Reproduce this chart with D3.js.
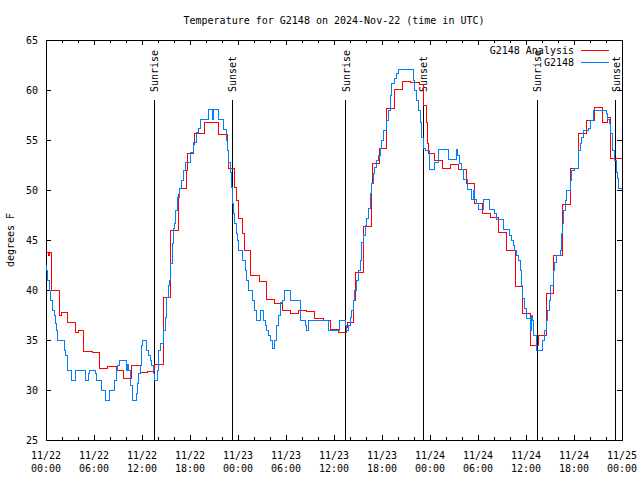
<!DOCTYPE html>
<html>
<head>
<meta charset="utf-8">
<script src="https://cdn.jsdelivr.net/npm/d3@7"></script>
<style>
  body { margin: 0; background: #fff; }
  text { font-family: "DejaVu Sans Mono", monospace; font-size: 10px; fill: #000; }
</style>
</head>
<body>
<svg id="chart" width="640" height="480"></svg>
<script>
// hours after 2024-11-22 00:00 UTC
const sunriseHours = [13.54, 37.46, 61.41];
const sunsetHours = [23.29, 47.16, 71.21];
const yTicks = [25, 30, 35, 40, 45, 50, 55, 60, 65];

// G2148 Analysis: [hour, degF], step changes
const analysis = [
  [0, 43.8], [0.3, 43.5], [0.45, 43.8], [0.7, 40.0], [1.67, 37.5], [1.88, 37.8], [2.67, 36.8],
  [3.7, 35.8], [4.0, 36.0], [4.67, 33.9], [5.8, 33.8], [6.67, 32.2], [7.7, 32.4], [8.75, 32.0],
  [9.67, 31.2], [10.7, 32.5], [11.75, 31.8], [12.7, 31.9], [13.6, 32.6], [14.7, 39.3], [15.6, 46.0],
  [16.6, 49.6], [16.7, 50.2], [17.6, 52.0], [17.7, 53.7], [18.4, 54.6], [18.6, 55.7], [19.75, 56.8],
  [21.6, 55.6], [22.7, 54.0], [22.8, 52.2], [23.5, 50.3], [23.75, 49.0], [24.0, 47.2], [24.5, 45.7],
  [24.75, 44.0], [25.6, 41.5], [26.67, 40.9], [27.58, 39.1], [28.6, 38.7], [29.6, 38.0], [30.6, 37.7],
  [31.5, 38.0], [32.6, 37.9], [33.6, 37.2], [34.7, 37.0], [35.5, 36.1], [36.5, 35.8], [37.5, 36.3],
  [37.7, 36.8], [38.4, 39.0], [38.7, 41.8], [39.7, 46.4], [40.7, 50.7], [40.8, 52.7], [41.7, 54.2],
  [42.6, 58.2], [43.6, 60.1], [44.6, 60.9], [45.6, 60.8], [46.7, 60.6], [47.2, 58.5], [47.5, 56.8],
  [47.65, 54.7], [47.8, 53.7], [48.6, 53.0], [49.6, 52.2], [50.6, 52.6], [51.6, 52.1], [52.6, 50.7],
  [53.6, 48.7], [54.6, 47.7], [55.6, 47.3], [56.6, 45.8], [57.6, 44.0], [58.7, 40.4], [59.6, 37.7],
  [60.6, 34.5], [61.55, 35.5], [62.6, 39.7], [63.4, 43.5], [64.6, 48.6], [65.6, 52.2], [66.6, 55.7],
  [67.6, 57.0], [68.5, 58.3], [69.5, 56.8], [70.2, 57.3], [70.5, 55.7], [70.6, 53.2], [72, 53.2]
];

// G2148 station obs: [hour, degF]
const station = [
  [0, 42.5], [0.1, 42.0], [0.21, 41.0], [0.42, 40.0], [0.58, 39.0], [0.83, 38.0], [1.0, 37.5],
  [1.17, 36.7], [1.33, 36.0], [1.42, 35.0], [2.29, 34.0], [2.46, 33.5], [2.67, 32.0], [3.13, 31.0],
  [3.71, 32.0], [4.92, 31.0], [5.29, 31.7], [5.42, 32.0], [6.21, 31.7], [6.33, 31.0], [6.96, 30.0],
  [7.38, 29.0], [7.92, 30.0], [8.5, 31.0], [8.75, 32.0], [8.92, 32.5], [9.17, 33.0], [10.0, 32.0],
  [10.15, 32.6], [10.3, 32.0], [10.5, 31.0], [10.6, 30.5], [10.75, 29.0], [11.33, 29.7], [11.45, 30.7],
  [11.6, 31.7], [11.75, 32.5], [11.9, 34.5], [12.04, 35.0], [12.5, 34.0], [12.8, 33.5], [13.0, 33.0],
  [13.2, 32.5], [13.4, 31.7], [13.55, 31.0], [13.9, 32.0], [14.1, 34.0], [14.3, 34.7], [14.67, 36.0],
  [14.9, 37.3], [15.1, 39.3], [15.3, 40.5], [15.45, 41.0], [15.58, 42.7], [15.75, 44.7], [15.9, 46.2],
  [16.08, 46.7], [16.2, 48.0], [16.46, 49.3], [16.67, 50.2], [16.96, 51.0], [17.17, 52.0], [17.4, 52.8],
  [18.0, 53.8], [18.4, 54.8], [18.83, 55.8], [19.04, 56.2], [19.33, 57.1], [20.3, 58.1], [20.83, 57.1],
  [20.96, 58.1], [21.6, 57.1], [22.2, 56.1], [22.5, 55.0], [22.7, 54.0], [22.8, 52.8], [23.0, 51.8],
  [23.2, 50.3], [23.33, 48.7], [23.4, 47.7], [23.54, 46.7], [23.75, 45.7], [23.9, 45.0], [24.08, 44.0],
  [24.54, 43.0], [24.9, 42.0], [25.1, 41.0], [25.3, 40.0], [25.83, 39.0], [26.04, 38.0], [26.33, 37.0],
  [26.75, 38.0], [27.17, 37.0], [27.4, 36.5], [27.6, 36.0], [27.8, 35.5], [28.0, 35.0], [28.3, 34.2],
  [28.6, 35.0], [28.83, 36.5], [29.04, 37.5], [29.25, 38.8], [29.6, 39.0], [29.8, 40.0], [30.6, 39.0],
  [31.75, 37.0], [32.4, 36.5], [32.6, 36.0], [32.8, 37.0], [35.3, 36.0], [36.67, 37.0], [37.46, 36.5],
  [37.6, 36.0], [37.8, 36.5], [38.0, 37.3], [38.2, 38.0], [38.4, 39.0], [38.6, 40.0], [38.83, 41.0],
  [39.04, 42.0], [39.25, 43.0], [39.46, 44.8], [39.7, 45.5], [39.9, 46.5], [40.1, 47.2], [40.3, 48.2],
  [40.5, 49.7], [40.7, 50.7], [40.9, 51.7], [41.1, 52.3], [41.3, 53.0], [41.5, 53.5], [41.75, 54.2],
  [41.96, 55.0], [42.2, 56.0], [42.6, 57.0], [42.8, 58.0], [43.0, 59.5], [43.2, 60.7], [43.5, 61.2],
  [43.8, 61.7], [44.0, 62.1], [45.9, 61.0], [46.1, 60.0], [46.3, 59.0], [46.5, 58.0], [46.75, 56.8],
  [46.96, 55.3], [47.2, 54.2], [47.4, 54.0], [47.9, 52.1], [48.6, 52.8], [49.0, 54.1], [50.3, 53.1],
  [51.3, 54.1], [51.45, 53.5], [51.7, 52.7], [51.96, 52.1], [52.2, 51.1], [52.7, 50.1], [53.2, 49.1],
  [53.4, 50.0], [53.5, 49.1], [53.8, 48.7], [54.0, 48.1], [54.7, 49.1], [55.4, 48.1], [56.0, 47.7],
  [56.3, 47.1], [57.2, 46.1], [57.9, 45.5], [58.2, 45.0], [58.4, 44.5], [58.6, 44.0], [58.8, 43.5],
  [59.0, 43.0], [59.3, 42.0], [59.45, 40.5], [59.6, 39.2], [59.75, 38.2], [60.1, 37.2], [60.5, 36.0],
  [60.7, 37.5], [60.8, 37.0], [60.95, 35.5], [61.25, 34.0], [62.1, 35.0], [62.3, 36.0], [62.5, 37.0],
  [62.7, 38.0], [62.9, 39.0], [63.1, 40.5], [63.4, 42.0], [63.6, 42.8], [63.8, 43.5], [64.25, 44.0],
  [64.45, 45.7], [64.6, 46.7], [64.7, 48.0], [64.9, 49.0], [65.1, 50.0], [65.5, 51.0], [65.7, 52.0],
  [66.1, 52.2], [66.5, 54.0], [66.75, 54.7], [66.96, 55.3], [67.2, 56.0], [67.8, 56.2], [68.0, 57.0],
  [68.4, 58.0], [70.0, 57.7], [70.2, 57.1], [70.4, 56.7], [70.6, 55.7], [70.8, 54.0], [71.1, 53.0],
  [71.25, 51.8], [71.4, 51.2], [71.5, 50.2], [72, 50.2]
];

const start = new Date(Date.UTC(2024, 10, 22));
const end = new Date(Date.UTC(2024, 10, 25));
const t = h => new Date(start.getTime() + h * 3600e3);

const svg = d3.select("#chart");
const plotLeft = 46, plotRight = 622, plotTop = 40, plotBottom = 440;

const x = d3.scaleUtc().domain([start, end]).range([plotLeft, plotRight]);
const y = d3.scaleLinear().domain([25, 65]).range([plotBottom, plotTop]);

svg.append("rect").attr("width", 640).attr("height", 480).attr("fill", "#fff");

function styleAxis(g) {
  g.select(".domain").remove();
  g.attr("font-family", null).attr("font-size", null);
  g.selectAll("line").attr("shape-rendering", "crispEdges");
}

// minor x ticks (2 h) bottom + top
svg.append("g").attr("transform", `translate(0,${plotBottom})`)
  .call(d3.axisBottom(x).ticks(d3.utcHour.every(2)).tickSize(-3).tickFormat(""))
  .call(styleAxis);
svg.append("g").attr("transform", `translate(0,${plotTop})`)
  .call(d3.axisTop(x).ticks(d3.utcHour.every(2)).tickSize(-3).tickFormat(""))
  .call(styleAxis);

// major x ticks (6 h)
svg.append("g").attr("transform", `translate(0,${plotBottom})`)
  .call(d3.axisBottom(x).ticks(d3.utcHour.every(6)).tickSize(-5).tickFormat(""))
  .call(styleAxis);
svg.append("g").attr("transform", `translate(0,${plotTop})`)
  .call(d3.axisTop(x).ticks(d3.utcHour.every(6)).tickSize(-5).tickFormat(""))
  .call(styleAxis);

const fmtDay = d3.utcFormat("%m/%d"), fmtTime = d3.utcFormat("%H:%M");
x.ticks(d3.utcHour.every(6)).forEach(d => {
  const lab = svg.append("text").attr("text-anchor", "middle");
  lab.append("tspan").attr("x", x(d)).attr("y", 458.5).text(fmtDay(d));
  lab.append("tspan").attr("x", x(d)).attr("y", 471.5).text(fmtTime(d));
});

// y axes
svg.append("g").attr("transform", `translate(${plotLeft},0)`)
  .call(d3.axisLeft(y).tickValues(yTicks).tickSize(-5).tickPadding(8))
  .call(styleAxis);
svg.append("g").attr("transform", `translate(${plotRight},0)`)
  .call(d3.axisRight(y).tickValues(yTicks).tickSize(-5).tickFormat(""))
  .call(styleAxis);

// frame
svg.append("rect")
  .attr("x", plotLeft).attr("y", plotTop)
  .attr("width", plotRight - plotLeft).attr("height", plotBottom - plotTop)
  .attr("fill", "none").attr("stroke", "#000").attr("shape-rendering", "crispEdges");

// sunrise / sunset markers
const sunEvents = sunriseHours.map(h => ({ h, label: "Sunrise" }))
  .concat(sunsetHours.map(h => ({ h, label: "Sunset" })));
sunEvents.forEach(e => {
  const sx = x(t(e.h));
  svg.append("line")
    .attr("x1", sx).attr("x2", sx).attr("y1", 100).attr("y2", plotBottom)
    .attr("stroke", "#000").attr("shape-rendering", "crispEdges");
  svg.append("text")
    .attr("transform", `translate(${sx + 4},92) rotate(-90)`)
    .attr("text-anchor", "start")
    .text(e.label);
});

// series
const line = d3.line()
  .x(d => x(t(d[0])))
  .y(d => y(d[1]))
  .curve(d3.curveStepAfter);

svg.append("path").datum(analysis)
  .attr("fill", "none").attr("stroke", "#ff0000").attr("stroke-width", 1)
  .attr("shape-rendering", "crispEdges").attr("d", line);

svg.append("path").datum(station)
  .attr("fill", "none").attr("stroke", "#0080ff").attr("stroke-width", 1)
  .attr("shape-rendering", "crispEdges").attr("d", line);

// legend
const legend = [
  { name: "G2148 Analysis", color: "#ff0000", y: 50 },
  { name: "G2148", color: "#0080ff", y: 62.5 }
];
legend.forEach(l => {
  svg.append("text").attr("x", 574).attr("y", l.y + 3.5).attr("text-anchor", "end").text(l.name);
  svg.append("line")
    .attr("x1", 581).attr("x2", 609).attr("y1", l.y).attr("y2", l.y)
    .attr("stroke", l.color).attr("shape-rendering", "crispEdges");
});

// titles
svg.append("text")
  .attr("x", 334).attr("y", 24).attr("text-anchor", "middle")
  .text("Temperature for G2148 on 2024-Nov-22 (time in UTC)");

svg.append("text")
  .attr("transform", "translate(14,240) rotate(-90)")
  .attr("text-anchor", "middle")
  .text("degrees F");
</script>
</body>
</html>
